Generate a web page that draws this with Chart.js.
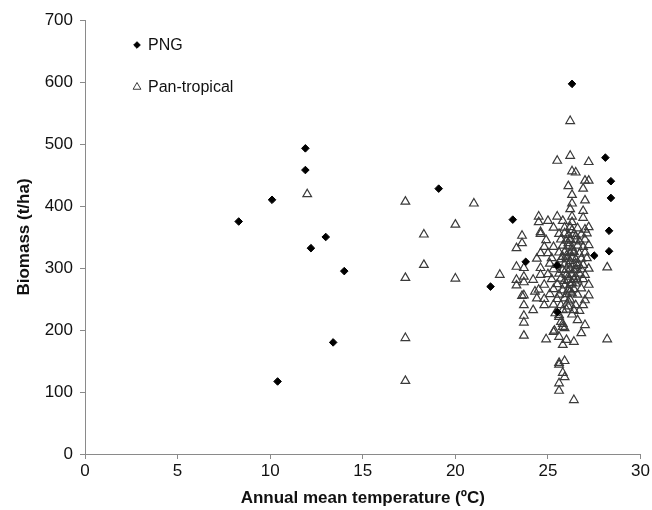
<!DOCTYPE html>
<html lang="en">
<head>
  <meta charset="UTF-8">
  <title>Biomass vs annual mean temperature</title>
  <script src="https://cdn.jsdelivr.net/npm/chart.js"></script>
  <style>
    body {
      margin: 0;
      padding: 0;
      background: #fff;
    }

    .chart-box {
      width: 652px;
      height: 510px;
    }
  </style>
</head>
<body>
  <div class="chart-box">
    <canvas id="biomassChart"></canvas>
  </div>

  <script>
    // PNG plots: [temperature (oC), biomass (t/ha)]
    const pngPoints = [
      [8.3, 375], [10.1, 410], [10.4, 117], [11.9, 493], [11.9, 458], [12.2, 332],
      [13.0, 350], [13.4, 180], [14.0, 295], [19.1, 428], [21.9, 270], [23.1, 378],
      [23.8, 310], [25.5, 304], [25.5, 229], [26.3, 597], [27.5, 320], [28.1, 478],
      [28.4, 440], [28.4, 413], [28.3, 360], [28.3, 327]
    ];

    // pan-tropical plots (the dense block is approximate)
    const panPoints = [
      [12.0, 419], [17.3, 407], [21.0, 404], [20.0, 370], [18.3, 354], [18.3, 305],
      [17.3, 284], [20.0, 283], [22.4, 289], [17.3, 187], [17.3, 118],
      [23.6, 352], [23.6, 340], [23.3, 332], [23.3, 302], [23.7, 300], [23.3, 281],
      [23.3, 272], [23.7, 286], [23.7, 277], [23.6, 255], [23.7, 223], [23.7, 212],
      [23.7, 191], [23.7, 240], [23.7, 256],
      [26.2, 537], [25.5, 473], [26.2, 481], [27.2, 471], [26.3, 456], [26.5, 454],
      [27.0, 441], [27.2, 441], [26.1, 432], [26.9, 428], [26.3, 418], [27.0, 409],
      [26.3, 404], [26.2, 395], [26.9, 392], [26.9, 381],
      [24.5, 383], [25.0, 376], [24.5, 374], [25.5, 383], [25.8, 376], [26.3, 383],
      [26.3, 374], [27.2, 366], [24.6, 358],
      [25.3, 365], [25.9, 365], [26.2, 366], [26.6, 364], [27.0, 362],
      [24.6, 355], [25.6, 355], [25.9, 356], [26.1, 353], [26.4, 355], [26.8, 354], [27.1, 356],
      [24.9, 345], [25.7, 346], [26.0, 344], [26.2, 347], [26.5, 345], [26.7, 343], [27.0, 346],
      [24.8, 334], [25.3, 334], [25.8, 336], [26.1, 335], [26.3, 333], [26.6, 336], [26.9, 334], [27.2, 337],
      [24.6, 324], [25.0, 324], [25.6, 325], [25.9, 326], [26.2, 324], [26.4, 326], [26.7, 323], [27.0, 325],
      [24.4, 315], [25.2, 316], [25.7, 314], [26.0, 315], [26.3, 317], [26.5, 314], [26.8, 315], [27.1, 316],
      [25.1, 307], [25.5, 305], [25.9, 306], [26.1, 304], [26.4, 306], [26.6, 303], [26.9, 305],
      [24.6, 300], [25.3, 298], [25.8, 297], [26.2, 299], [26.5, 297], [26.8, 298], [27.2, 299],
      [24.6, 289], [25.0, 290], [25.6, 291], [26.0, 289], [26.3, 290], [26.7, 291], [27.0, 289],
      [24.2, 281], [25.2, 282], [25.7, 283], [26.1, 281], [26.4, 282], [26.6, 280], [26.9, 282],
      [24.8, 273], [25.5, 274], [25.9, 272], [26.2, 273], [26.5, 275], [27.2, 273],
      [24.5, 265], [25.3, 266], [25.8, 264], [26.1, 265], [26.4, 266], [26.8, 267],
      [24.3, 262], [24.4, 251], [25.1, 258], [25.6, 257], [26.0, 258], [26.3, 259], [26.6, 257], [27.2, 256],
      [24.8, 250], [25.5, 250], [25.9, 251], [26.2, 249], [27.0, 248],
      [24.8, 240], [25.3, 241], [25.7, 240], [26.1, 238], [26.5, 240], [26.9, 240],
      [24.2, 232], [25.8, 232], [26.0, 233], [26.4, 232], [26.7, 231],
      [25.4, 227], [25.6, 224], [26.3, 225],
      [25.6, 221], [25.7, 213], [25.8, 205], [27.0, 208], [26.6, 216], [25.8, 210],
      [25.9, 203], [26.8, 195],
      [25.3, 197], [25.35, 199], [24.9, 185], [25.6, 189], [25.8, 176], [26.0, 184],
      [26.4, 181], [25.6, 147], [25.9, 150], [25.6, 144], [25.8, 131], [25.9, 124],
      [25.6, 114], [25.6, 102], [26.4, 87],
      [28.2, 301], [28.2, 185],
      // extra marks in the darkest part of the block
      [26.1, 340], [26.3, 328], [26.2, 311], [26.4, 296], [26.1, 286], [26.3, 276],
      [26.2, 262], [26.0, 320], [26.5, 351], [26.3, 361], [26.0, 298], [26.5, 286],
      [25.8, 318], [25.9, 279], [26.6, 308], [26.1, 246]
    ];

    const xTicks = [0, 5, 10, 15, 20, 25, 30];
    const yTicks = [0, 100, 200, 300, 400, 500, 600, 700];

    const seriesNames = ['PNG', 'Pan-tropical'];

    const toXY = pts => pts.map(p => ({ x: p[0], y: p[1] }));
    const fontFamily = '"Liberation Sans", Arial, sans-serif';
    const textColor = '#111';
    const axisColor = '#8a8a8a';

    // legend drawn inside the plot, top left
    const innerLegend = {
      id: 'innerLegend',
      afterDraw(chart) {
        const ctx = chart.ctx;
        const rows = [
          { y: 45, ds: chart.data.datasets[0] },
          { y: 87, ds: chart.data.datasets[1] }
        ];
        ctx.save();
        ctx.font = '16px ' + fontFamily;
        ctx.textBaseline = 'middle';
        rows.forEach(r => {
          const mx = 137;
          ctx.strokeStyle = r.ds.borderColor;
          ctx.fillStyle = r.ds.backgroundColor;
          ctx.lineWidth = 1;
          Chart.helpers.drawPoint(ctx, {
            pointStyle: r.ds.pointStyle,
            radius: r.ds.pointRadius - 0.5,
            borderWidth: 1
          }, mx, r.y);
          ctx.fillStyle = textColor;
          ctx.fillText(r.ds.label, mx + 11, r.y + 1);
        });
        ctx.restore();
      }
    };

    const ctx = document.getElementById('biomassChart').getContext('2d');
    new Chart(ctx, {
      type: 'scatter',
      data: {
        datasets: [
          {
            label: seriesNames[0],
            data: toXY(pngPoints),
            pointStyle: 'rectRot',
            pointRadius: 3.8,
            backgroundColor: '#000',
            borderColor: '#000',
            borderWidth: 1
          },
          {
            label: seriesNames[1],
            data: toXY(panPoints),
            pointStyle: 'triangle',
            pointRadius: 5,
            backgroundColor: 'rgba(255,255,255,0)',
            borderColor: '#3a3a3a',
            borderWidth: 1.2
          }
        ]
      },
      options: {
        responsive: true,
        maintainAspectRatio: false,
        animation: false,
        layout: {
          padding: { top: 20, right: 11, left: 0, bottom: 0 }
        },
        plugins: {
          legend: { display: false },
          tooltip: { enabled: false }
        },
        scales: {
          x: {
            type: 'linear',
            min: 0,
            max: 30,
            afterBuildTicks: s => { s.ticks = xTicks.map(v => ({ value: v })); },
            afterFit: s => { s.height = 56; },
            border: { display: true, color: axisColor, width: 1 },
            grid: { display: true, drawOnChartArea: false, drawTicks: true, tickLength: 5, color: axisColor },
            ticks: {
              padding: 2,
              color: textColor,
              font: { family: fontFamily, size: 17 }
            },
            title: {
              display: true,
              text: 'Annual mean temperature (\u00BAC)',
              color: textColor,
              padding: { top: 2, bottom: 1 },
              font: { family: fontFamily, size: 17, weight: 'bold' }
            }
          },
          y: {
            type: 'linear',
            min: 0,
            max: 700,
            afterBuildTicks: s => { s.ticks = yTicks.map(v => ({ value: v })); },
            afterFit: s => { s.width = 85; },
            border: { display: true, color: axisColor, width: 1 },
            grid: { display: true, drawOnChartArea: false, drawTicks: true, tickLength: 5, color: axisColor },
            ticks: {
              padding: 7,
              color: textColor,
              font: { family: fontFamily, size: 17 }
            },
            title: {
              display: true,
              text: 'Biomass (t/ha)',
              color: textColor,
              padding: { top: 14, bottom: 0 },
              font: { family: fontFamily, size: 17, weight: 'bold' }
            }
          }
        }
      },
      plugins: [innerLegend]
    });
  </script>
</body>
</html>
